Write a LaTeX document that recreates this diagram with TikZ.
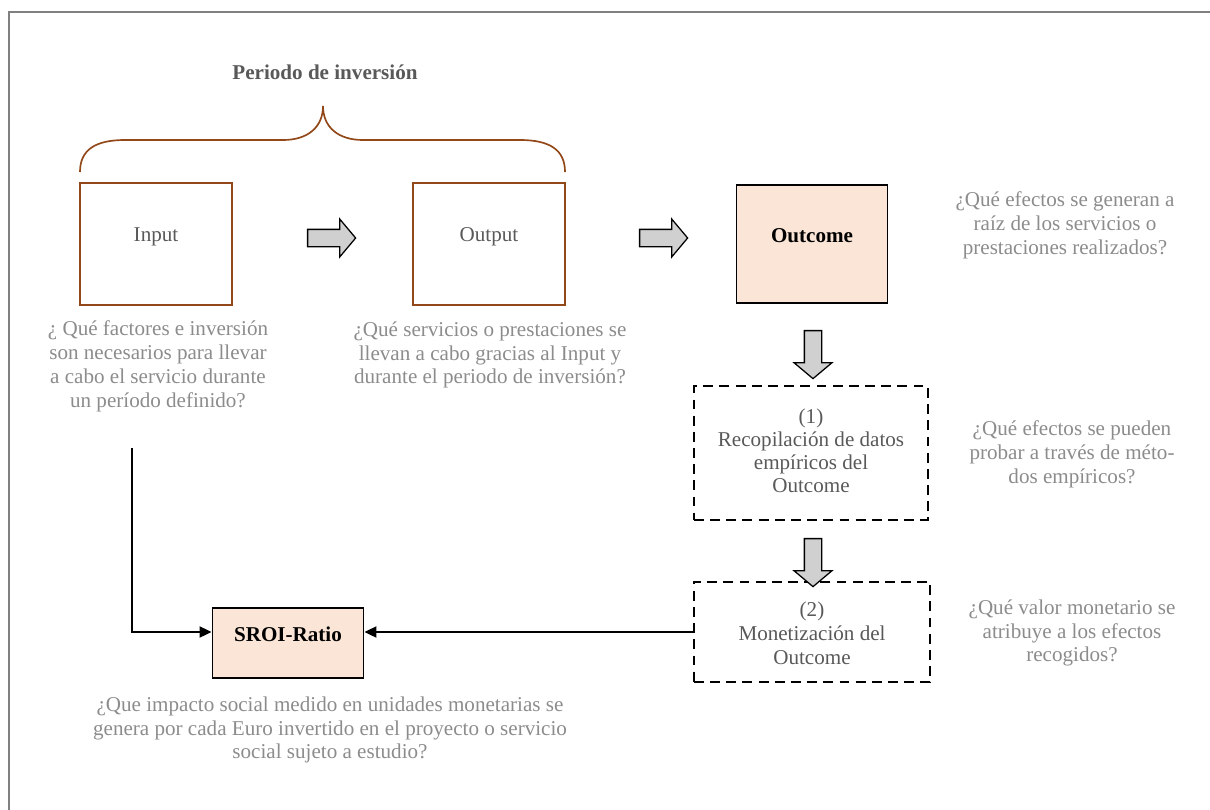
\documentclass[tikz,border=0pt]{standalone}
\usepackage{fontspec}
\setmainfont{Liberation Serif}
\usetikzlibrary{positioning,shapes.arrows,arrows.meta}

\definecolor{boxbrown}{RGB}{146,72,24}
\definecolor{asktext}{RGB}{140,140,140}
\definecolor{darktext}{RGB}{89,89,89}
\definecolor{peach}{RGB}{251,229,214}
\definecolor{arrowgray}{RGB}{208,208,208}
\definecolor{framegray}{RGB}{128,128,128}

\begin{document}
\begin{tikzpicture}[
  x=0.025cm,
  y=-0.025cm,
  font=\fontsize{15}{17}\selectfont,
  box/.style={draw=boxbrown, line width=1.2pt, minimum width=3.8cm, minimum height=3.05cm, text=darktext},
  res/.style={draw=black, line width=1.2pt, fill=peach, font=\fontsize{15}{17}\selectfont\bfseries},
  dbox/.style={draw=black, line width=1.5pt, dash pattern=on 7pt off 4.5pt, text=darktext},
  ask/.style={align=center, text=asktext},
  blk/.style={single arrow, draw=black, fill=arrowgray, line width=0.9pt, minimum height=1.2cm, minimum width=0.92cm,
    inner xsep=0pt, inner ysep=0.2cm, single arrow head extend=0.26cm, single arrow tip angle=100},
  arr/.style={-{Triangle[length=0.3cm,width=0.28cm]}, line width=1pt}
]
\useasboundingbox (0,0) rectangle (1210,809);

% Marco
\draw[framegray, line width=1.5pt] (1215,12) -- (9,12) -- (9,815);

% Fila superior
\node[box] (input) at (156,244) {\raisebox{0.46cm}{Input}};
\node[box] (output) at (489,244) {\raisebox{0.46cm}{Output}};
\node[res, minimum width=3.78cm, minimum height=2.95cm] (outcome) at (812,244) {\raisebox{0.42cm}{Outcome}};

% Llave y título
\node[font=\fontsize{15}{17}\selectfont\bfseries, text=darktext] (period) at (325,72) {Periodo de inversión};
\draw[boxbrown, line width=1.2pt] (80,172) .. controls (80,150) and (95,140) .. (125,140) -- (283,140)
  .. controls (308,140) and (323,127) .. (323,106) .. controls (323,127) and (338,140) .. (363,140)
  -- (520,140) .. controls (550,140) and (565,150) .. (565,172);

% Columna derecha
\node[dbox, minimum width=5.85cm, minimum height=3.33cm] (recop) at (811,453)
  {\raisebox{0.26cm}{\begin{tabular}{@{}c@{}}(1)\\[-0.6pt]Recopilación de datos\\[-0.6pt]empíricos del\\[-0.6pt]Outcome\end{tabular}}};
\node[dbox, minimum width=5.9cm, minimum height=2.52cm] (monet) at (812,632)
  {\raisebox{0pt}[\dimexpr\height+0.2cm\relax][\depth]{\begin{tabular}{@{}c@{}}(2)\\Monetización del\\Outcome\end{tabular}}};
\node[res, minimum width=3.78cm, minimum height=1.75cm] (sroi) at (288,643) {\raisebox{0.45cm}{SROI-Ratio}};

% Flechas de bloque
\node[blk] (blkA) at (328,238) {};
\node[blk] (blkB) at (660,238) {};
\node[blk, rotate=-90] (blkC) at (813,351) {};
\node[blk, rotate=-90] (blkD) at (813,559) {};

% Preguntas
\node[ask] (qinput) at (158,366) {¿ Qué factores e inversión\\son necesarios para llevar\\a cabo el servicio durante\\un período definido?};
\node[ask] (qoutput) at (490,355) {¿Qué servicios o prestaciones se\\llevan a cabo gracias al Input y\\durante el periodo de inversión?};
\node[ask] (qoutcome) at (1065,225) {¿Qué efectos se generan a\\raíz de los servicios o\\prestaciones realizados?};
\node[ask] (qrecop) at (1072,454) {¿Qué efectos se pueden\\probar a través de méto-\\dos empíricos?};
\node[ask] (qmonet) at (1072,633) {¿Qué valor monetario se\\atribuye a los efectos\\recogidos?};
\node[ask] (qsroi) at (330,730) {¿Que impacto social medido en unidades monetarias se\\genera por cada Euro invertido en el proyecto o servicio\\social sujeto a estudio?};

% Conectores hacia SROI
\coordinate (feed) at (132,448);
\draw[arr] (monet.west) -- (monet.west -| sroi.east);
\draw[arr] (feed) |- (monet.west -| sroi.west);

\end{tikzpicture}
\end{document}
